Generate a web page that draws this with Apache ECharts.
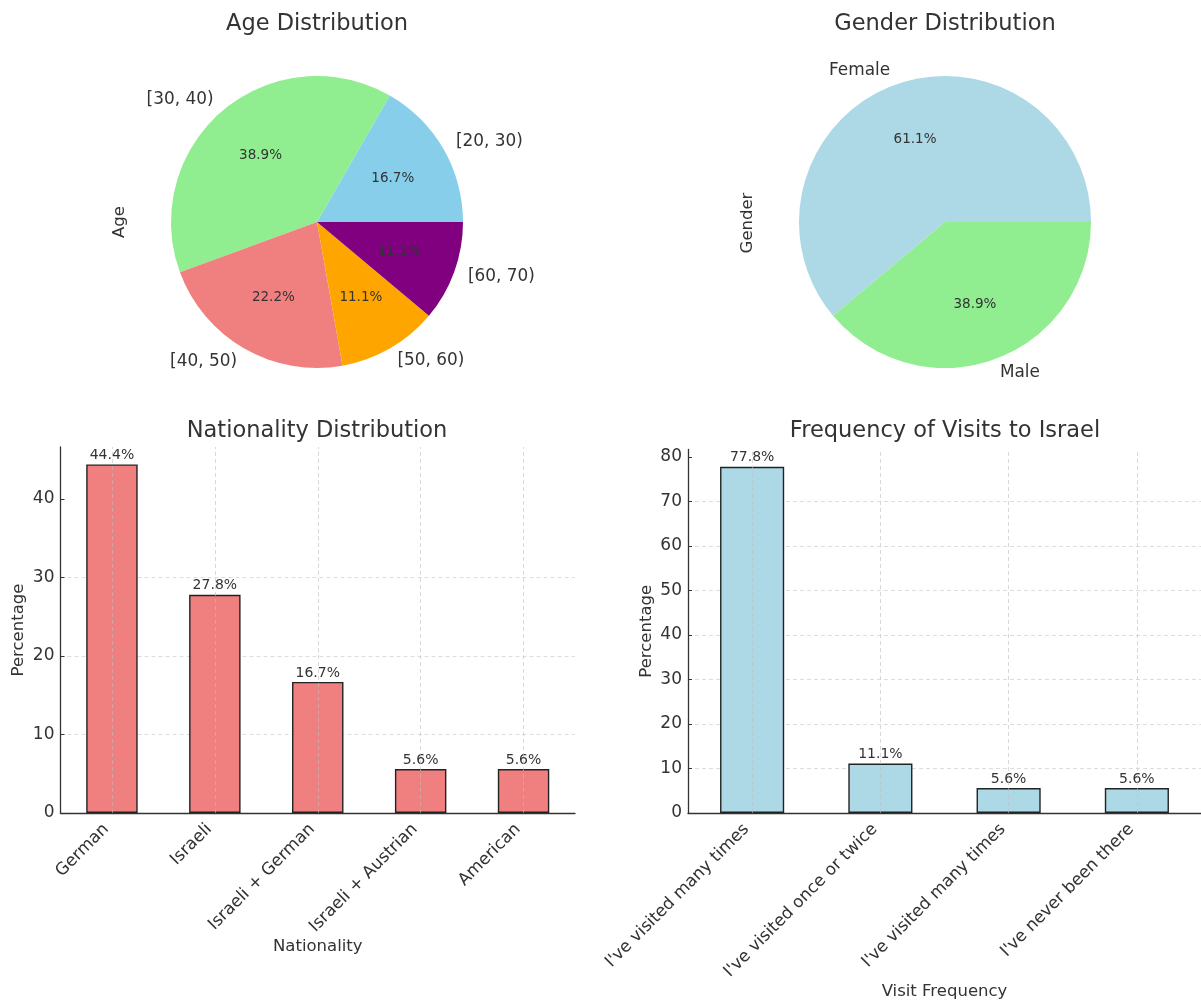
<!DOCTYPE html>
<html>
<head>
<meta charset="utf-8">
<script src="https://cdn.jsdelivr.net/npm/echarts@6/dist/echarts.min.js"></script>
<style>
html,body{margin:0;padding:0;background:#fff;}
#chart{width:1201px;height:1003px;}
</style>
</head>
<body>
<div id="chart"></div>
<script>
// ---------------- data ----------------
const ageCategories = ['[20, 30)', '[30, 40)', '[40, 50)', '[50, 60)', '[60, 70)'];
const agePercent = [16.7, 38.9, 22.2, 11.1, 11.1];
const ageColors = ['#87CEEB', '#90EE90', '#F08080', '#FFA500', '#800080'];

const genderCategories = ['Female', 'Male'];
const genderPercent = [61.1, 38.9];
const genderColors = ['#ADD8E6', '#90EE90'];

const nationalityCategories = ['German', 'Israeli', 'Israeli + German', 'Israeli + Austrian', 'American'];
const nationalityPercent = [44.4, 27.8, 16.7, 5.6, 5.6];
const nationalityTicks = [0, 10, 20, 30, 40];

const visitCategories = ["I've visited many times", "I've visited once or twice", "I've visited many times", "I've never been there"];
const visitPercent = [77.8, 11.1, 5.6, 5.6];
const visitTicks = [0, 10, 20, 30, 40, 50, 60, 70, 80];

// ---------------- style ----------------
const FONT = 'DejaVu Sans';
const TXT = '#333333';
const R = 146;

function pieSeries(center, names, values, colors) {
  const data = names.map((n, i) => ({ name: n, value: values[i], itemStyle: { color: colors[i] } }));
  return [
    {
      type: 'pie', center: center, radius: R, startAngle: 0, clockwise: false,
      avoidLabelOverlap: false, silent: true, animation: false,
      itemStyle: { borderWidth: 0 },
      emphasis: { disabled: true },
      data: data,
      label: { show: true, position: 'outside', formatter: '{b}', fontSize: 16.9, fontFamily: FONT,
               color: TXT, distanceToLabelLine: 0, rotate: 0 },
      labelLine: { show: false, length: R * 0.1, length2: 0 }
    },
    {
      type: 'pie', center: center, radius: [R * 0.2 - 6, R], startAngle: 0, clockwise: false,
      avoidLabelOverlap: false, silent: true, animation: false,
      itemStyle: { color: 'rgba(0,0,0,0)', borderWidth: 0 },
      emphasis: { disabled: true },
      data: names.map((n, i) => ({ name: n, value: values[i] })),
      label: { show: true, position: 'inside', rotate: 0,
               formatter: p => p.value.toFixed(1) + '%', fontSize: 13.5, fontFamily: FONT, color: TXT },
      labelLine: { show: false }
    }
  ];
}

function barAxes(gi, cats, ticks, maxVal, nameX, gapX) {
  const ymax = maxVal * 1.05;
  const x = {
    type: 'category', gridIndex: gi, data: cats,
    axisLine: { show: true, lineStyle: { color: TXT, width: 1.3 } },
    axisTick: { show: true, inside: true, length: 4, alignWithLabel: true, lineStyle: { color: TXT, width: 1 } },
    axisLabel: { interval: 0, rotate: 45, fontSize: 16.8, fontFamily: FONT, color: TXT, margin: 8, padding: [0, 8, 0, 0] },
    splitLine: { show: false },
    name: nameX, nameLocation: 'middle', nameGap: gapX,
    nameTextStyle: { fontSize: 16.5, fontFamily: FONT, color: TXT }
  };
  const y = {
    type: 'value', gridIndex: gi, min: 0, max: ymax, interval: 10,
    axisLine: { show: true, lineStyle: { color: TXT, width: 1.3 } },
    axisTick: { show: true, inside: true, length: 4, lineStyle: { color: TXT, width: 1 }, customValues: ticks },
    axisLabel: { fontSize: 17, fontFamily: FONT, color: TXT, margin: 6, customValues: ticks,
                 formatter: v => (ticks.indexOf(v) >= 0 ? String(v) : '') },
    splitLine: { show: true, showMaxLine: false, lineStyle: { type: [4, 3], color: '#d4d4d4', width: 0.8 } },
    name: 'Percentage', nameLocation: 'middle', nameGap: 33,
    nameTextStyle: { fontSize: 16.5, fontFamily: FONT, color: TXT }
  };
  return [x, y];
}

function barSeries(gi, cats, values, color) {
  return {
    type: 'bar', xAxisIndex: gi, yAxisIndex: gi, barWidth: '50%', animation: false, silent: true,
    data: values,
    itemStyle: { color: color, borderColor: '#222', borderWidth: 1.4 },
    label: { show: true, position: 'top', distance: 2, formatter: p => p.value.toFixed(1) + '%',
             fontSize: 14, fontFamily: FONT, color: TXT },
    markLine: {
      silent: true, symbol: 'none', animation: false, z: 5,
      label: { show: false },
      lineStyle: { type: [4, 3], color: 'rgba(190,190,190,0.75)', width: 0.8 },
      emphasis: { disabled: true },
      data: cats.map((c, i) => ({ xAxis: i }))
    }
  };
}

const ax1 = barAxes(0, nationalityCategories, nationalityTicks, Math.max(...nationalityPercent), 'Nationality', 124);
const ax2 = barAxes(1, visitCategories, visitTicks, Math.max(...visitPercent), 'Visit Frequency', 170);

function txt(text, x, y, size, rot) {
  return { type: 'text', x: x, y: y, rotation: rot || 0, silent: true,
           style: { text: text, fontSize: size, fontFamily: FONT, fill: TXT, align: 'center', verticalAlign: 'middle' } };
}

const option = {
  backgroundColor: '#ffffff',
  animation: false,
  textStyle: { fontFamily: FONT },
  grid: [
    { left: 60.5, top: 447, width: 514.5, height: 366 },
    { left: 688, top: 449.5, width: 516, height: 363.5 }
  ],
  xAxis: [ax1[0], ax2[0]],
  yAxis: [ax1[1], ax2[1]],
  series: [
    ...pieSeries([317, 222], ageCategories, agePercent, ageColors),
    ...pieSeries([945, 222], genderCategories, genderPercent, genderColors),
    barSeries(0, nationalityCategories, nationalityPercent, '#F08080'),
    barSeries(1, visitCategories, visitPercent, '#ADD8E6')
  ],
  graphic: [
    txt('Age Distribution', 317, 24, 22.5),
    txt('Gender Distribution', 945, 24, 22.5),
    txt('Nationality Distribution', 317, 431, 22.5),
    txt('Frequency of Visits to Israel', 945, 431, 22.5),
    txt('Age', 120, 222, 16.5, Math.PI / 2),
    txt('Gender', 748, 223, 16.5, Math.PI / 2)
  ]
};

const chart = echarts.init(document.getElementById('chart'), null, { renderer: 'canvas' });
chart.setOption(option);
</script>
</body>
</html>
